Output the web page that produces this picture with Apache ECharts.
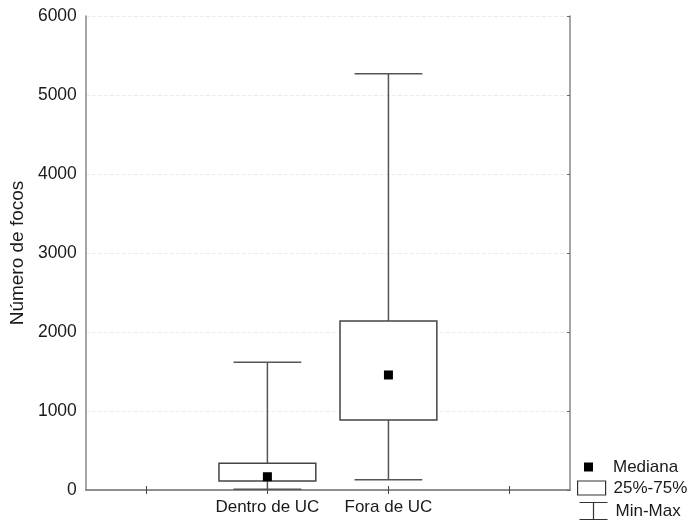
<!DOCTYPE html>
<html>
<head>
<meta charset="utf-8">
<script src="https://cdn.jsdelivr.net/npm/echarts@6/dist/echarts.min.js"></script>
<style>html,body{margin:0;padding:0;background:#fff}#c{width:689px;height:520px}</style>
</head>
<body>
<div id="c"></div>
<script>
// Data
var categories = [' ', 'Dentro de UC', 'Fora de UC', '  '];
var groupIndex = [1, 2];
var minValues = [10, 130];
var q1Values = [114, 886];
var medianValues = [168, 1456];
var q3Values = [338, 2139];
var maxValues = [1616, 5270];
var yTicks = [0, 1000, 2000, 3000, 4000, 5000, 6000];

var whiskerData = groupIndex.map(function (g, i) { return [g, minValues[i], maxValues[i]]; });
var boxData = groupIndex.map(function (g, i) { return [g, q1Values[i], q3Values[i]]; });
var medianData = groupIndex.map(function (g, i) { return [g, medianValues[i]]; });

var FONT = '"Liberation Sans", Arial, sans-serif';
var chart = echarts.init(document.getElementById('c'), null, { renderer: 'canvas' });

var legendText = { fontFamily: FONT, fontSize: 17, color: '#1a1a1a', lineHeight: 18 };

var option = {
  animation: false,
  backgroundColor: '#fff',
  grid: { left: 85, right: 119, top: 16, bottom: 30 },
  legend: [
    {
      data: [{ name: 'Mediana', icon: 'rect' }],
      left: 584, top: 458, padding: 0, itemWidth: 9, itemHeight: 9, itemGap: 0,
      selectedMode: false,
      itemStyle: { color: '#000', borderWidth: 0, opacity: 1 },
      textStyle: Object.assign({}, legendText, { padding: [0, 0, 0, 15] })
    },
    {
      data: [{ name: '25%-75%', icon: 'rect' }],
      left: 577, top: 479, padding: 0, itemWidth: 28, itemHeight: 14, itemGap: 0,
      selectedMode: false,
      itemStyle: { color: '#fff', borderColor: '#333', borderWidth: 1.2, opacity: 1 },
      textStyle: Object.assign({}, legendText, { padding: [0, 0, 0, 3] })
    },
    {
      data: [{ name: 'Min-Max', icon: 'path://M0,0 L28,0 M14,0 L14,17 M0,17 L28,17' }],
      left: 577, top: 500, padding: 0, itemWidth: 28, itemHeight: 17, itemGap: 0,
      selectedMode: false,
      itemStyle: { color: 'none', borderColor: '#333', borderWidth: 1.2, opacity: 1 },
      textStyle: Object.assign({}, legendText, { padding: [0, 0, 0, 3] })
    }
  ],
  xAxis: [
    {
      type: 'category', data: categories, boundaryGap: true,
      axisLine: { lineStyle: { color: '#888', width: 1.5 } },
      axisTick: { show: true, inside: true, length: 4, interval: 0, alignWithLabel: true, lineStyle: { color: '#444', width: 1 } },
      axisLabel: { fontFamily: FONT, fontSize: 17, color: '#1a1a1a', margin: 9, interval: 0 },
      splitLine: { show: false }
    },
    {
      type: 'category', data: categories, boundaryGap: true, position: 'top',
      axisLine: { lineStyle: { color: '#888', width: 1.5 } },
      axisTick: { show: true, inside: true, length: 4, interval: 0, alignWithLabel: true, lineStyle: { color: '#444', width: 1 } },
      axisLabel: { show: false },
      splitLine: { show: false }
    }
  ],
  yAxis: [
    {
      type: 'value', min: 0, max: 6000, interval: 1000,
      name: 'Número de focos', nameLocation: 'middle', nameGap: 58,
      nameTextStyle: { fontFamily: FONT, fontSize: 19, color: '#1a1a1a' },
      axisLine: { show: true, lineStyle: { color: '#888', width: 1.5 } },
      axisTick: { show: false },
      axisLabel: {
        fontFamily: FONT, fontSize: 17.5, color: '#1a1a1a', margin: 9,
        formatter: function (v) { return yTicks.indexOf(v) >= 0 ? String(v) : ''; }
      },
      splitLine: { show: true, lineStyle: { color: '#ebebeb', type: 'dashed', width: 1 } }
    },
    {
      type: 'value', min: 0, max: 6000, interval: 1000, position: 'right',
      axisLine: { show: true, lineStyle: { color: '#888', width: 1.5 } },
      axisTick: { show: true, inside: true, length: 3, lineStyle: { color: '#666' } },
      axisLabel: { show: false },
      splitLine: { show: false }
    }
  ],
  series: [
    {
      name: 'Min-Max', type: 'custom', xAxisIndex: 0, yAxisIndex: 0, z: 2,
      data: whiskerData,
      encode: { x: 0, y: [1, 2] },
      renderItem: function (params, api) {
        var x = api.value(0);
        var lo = api.coord([x, api.value(1)]);
        var hi = api.coord([x, api.value(2)]);
        var band = api.size([1, 0])[0];
        var half = band * 0.28;
        var st = { stroke: '#555', lineWidth: 1.5, fill: null };
        return {
          type: 'group',
          children: [
            { type: 'line', shape: { x1: lo[0], y1: lo[1], x2: hi[0], y2: hi[1] }, style: st },
            { type: 'line', shape: { x1: lo[0] - half, y1: lo[1], x2: lo[0] + half, y2: lo[1] }, style: st },
            { type: 'line', shape: { x1: hi[0] - half, y1: hi[1], x2: hi[0] + half, y2: hi[1] }, style: st }
          ]
        };
      }
    },
    {
      name: '25%-75%', type: 'custom', xAxisIndex: 0, yAxisIndex: 0, z: 3,
      data: boxData,
      encode: { x: 0, y: [1, 2] },
      renderItem: function (params, api) {
        var x = api.value(0);
        var lo = api.coord([x, api.value(1)]);
        var hi = api.coord([x, api.value(2)]);
        var band = api.size([1, 0])[0];
        var w = band * 0.8;
        return {
          type: 'rect',
          shape: { x: lo[0] - w / 2, y: hi[1], width: w, height: lo[1] - hi[1] },
          style: { fill: '#fff', stroke: '#444', lineWidth: 1.5 }
        };
      }
    },
    {
      name: 'Mediana', type: 'scatter', xAxisIndex: 0, yAxisIndex: 0, z: 4,
      data: medianData,
      symbol: 'rect', symbolSize: 9,
      itemStyle: { color: '#000', opacity: 1 }
    }
  ]
};
chart.setOption(option);
</script>
</body>
</html>
